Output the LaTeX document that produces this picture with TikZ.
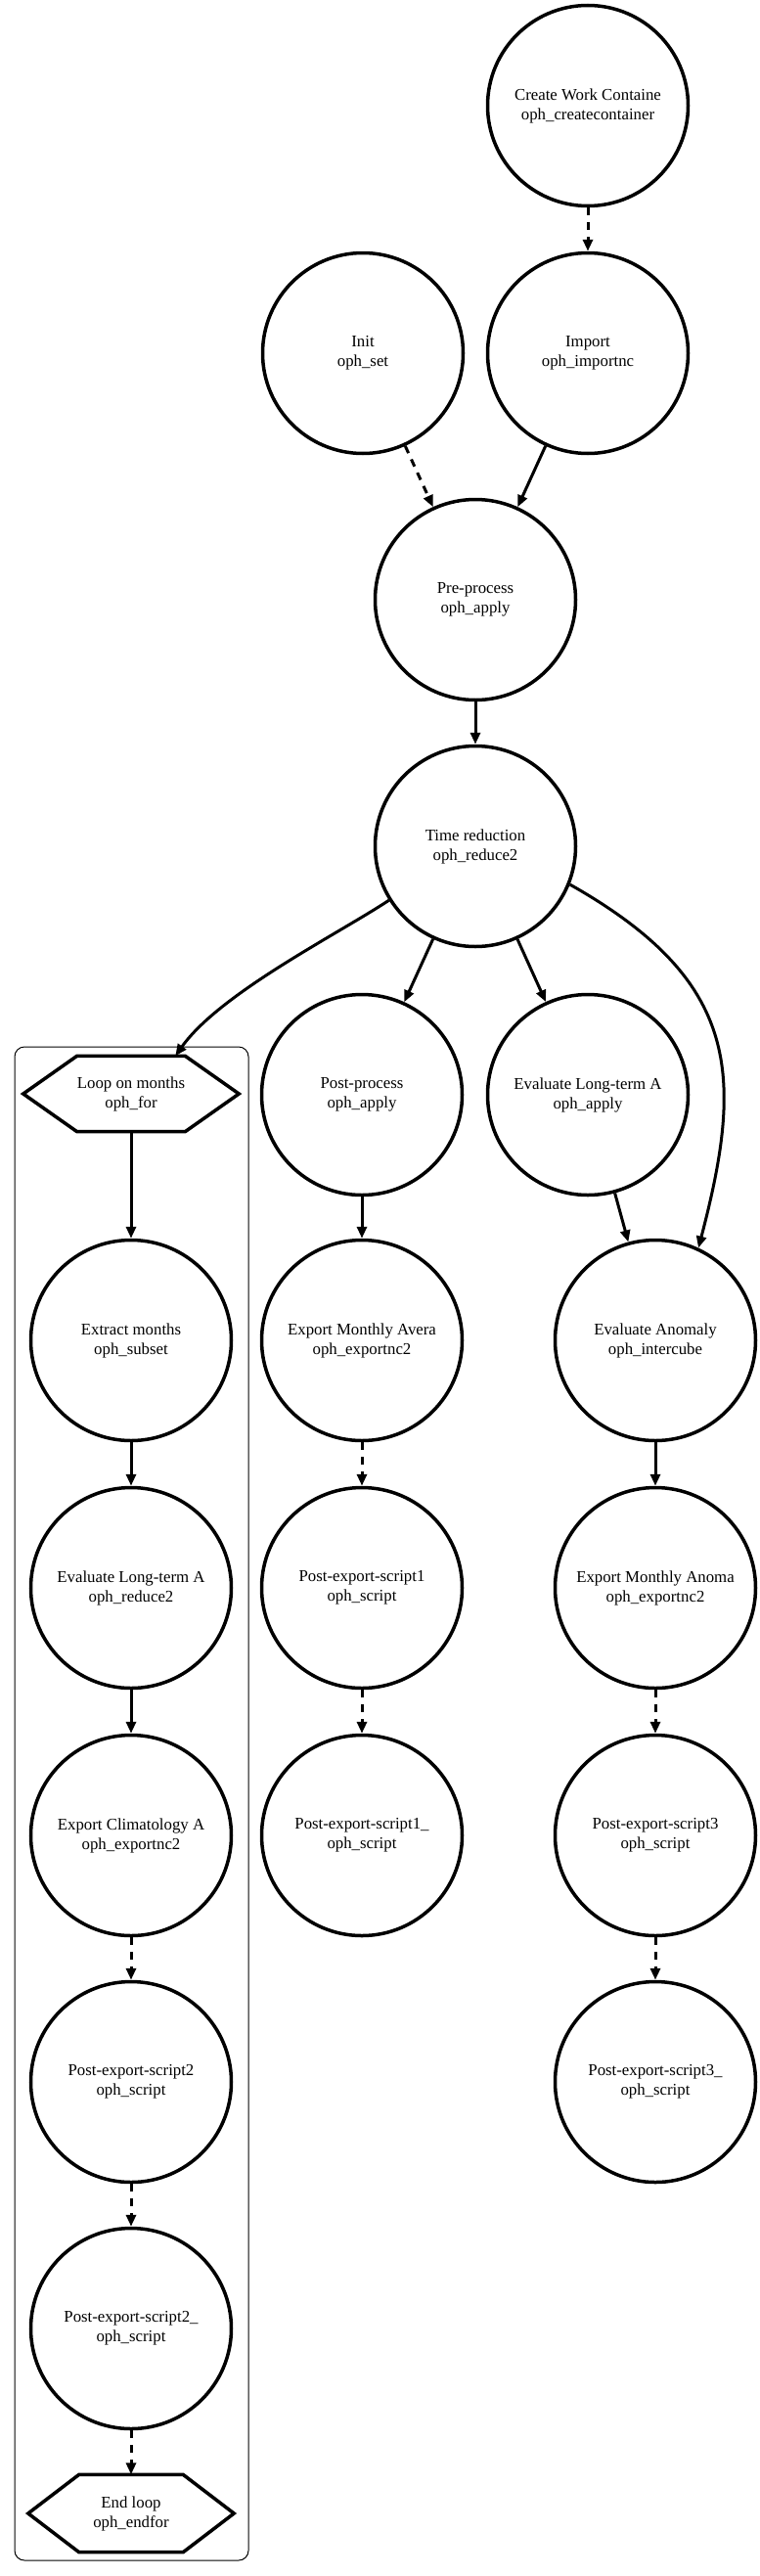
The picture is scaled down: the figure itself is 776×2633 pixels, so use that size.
\documentclass[tikz,border=0pt]{standalone}
\usepackage{fontspec}
\setmainfont{Liberation Serif}
\usetikzlibrary{arrows.meta,calc}
\begin{document}
\begin{tikzpicture}[x=1pt,y=-1pt,
  lbl/.style={align=center, font=\fontsize{16.8}{20}\selectfont},
  op/.style={lbl, circle, draw, line width=3.5pt, minimum size=205pt, inner sep=0pt},
  hexbox/.style={lbl, rectangle, draw=none, inner sep=0pt},
  hexline/.style={line width=3.5pt, line join=miter},
  edge/.style={line width=3pt, -{Triangle[length=12pt,width=10pt]}},
  dashededge/.style={edge, dash pattern=on 8pt off 7pt},
  clusterbox/.style={line width=1pt, rounded corners=10pt},
]
\useasboundingbox (0,0) rectangle (776,2633);

\draw[clusterbox] (15,1070) rectangle (254,2617);

\node[op] (create) at (601,108) {Create Work Containe\\oph\_createcontainer};
\node[op] (init) at (371,361) {Init\\oph\_set};
\node[op] (import) at (601,361) {Import\\oph\_importnc};
\node[op] (pre) at (486,613) {Pre-process\\oph\_apply};
\node[op] (time) at (486,865) {Time reduction\\oph\_reduce2};
\node[hexbox, minimum width=109pt, minimum height=77pt] (loop) at (134,1118) {Loop on months\\oph\_for};
\node[op] (post) at (370,1119) {Post-process\\oph\_apply};
\node[op] (evalA) at (601,1119) {Evaluate Long-term A\\oph\_apply};
\node[op] (extract) at (134,1370) {Extract months\\oph\_subset};
\node[op] (expavg) at (370,1370) {Export Monthly Avera\\oph\_exportnc2};
\node[op] (anom) at (670,1370) {Evaluate Anomaly\\oph\_intercube};
\node[op] (evalB) at (134,1623) {Evaluate Long-term A\\oph\_reduce2};
\node[op] (pes1) at (370,1623) {Post-export-script1\\oph\_script};
\node[op] (expanom) at (670,1623) {Export Monthly Anoma\\oph\_exportnc2};
\node[op] (expclim) at (134,1876) {Export Climatology A\\oph\_exportnc2};
\node[op] (pes1b) at (370,1876) {Post-export-script1\_\\oph\_script};
\node[op] (pes3) at (670,1876) {Post-export-script3\\oph\_script};
\node[op] (pes2) at (134,2128) {Post-export-script2\\oph\_script};
\node[op] (pes3b) at (670,2128) {Post-export-script3\_\\oph\_script};
\node[op] (pes2b) at (134,2380) {Post-export-script2\_\\oph\_script};
\node[hexbox, minimum width=106pt, minimum height=79pt] (endloop) at (134,2569) {End loop\\oph\_endfor};

\draw[hexline] (loop.north west) -- (loop.north east) -- ([xshift=55pt]loop.east)
  -- (loop.south east) -- (loop.south west) -- ([xshift=-55pt]loop.west) -- cycle;
\draw[hexline] (endloop.north west) -- (endloop.north east) -- ([xshift=52pt]endloop.east)
  -- (endloop.south east) -- (endloop.south west) -- ([xshift=-52pt]endloop.west) -- cycle;

\draw[dashededge] (create) -- (import);
\draw[dashededge] (init) -- (pre);
\draw[edge] (import) -- (pre);
\draw[edge] (pre) -- (time);
\draw[edge] (time.212) .. controls (345,955) and (225,1015) .. ([xshift=-10pt]loop.north east);
\draw[edge] (time) -- (post);
\draw[edge] (time) -- (evalA);
\draw[edge] (time.-22) .. controls (758,1003) and (760,1100) .. (anom.65);
\draw[edge] (evalA) -- (anom);
\draw[edge] (loop) -- (extract);
\draw[edge] (extract) -- (evalB);
\draw[edge] (evalB) -- (expclim);
\draw[dashededge] (expclim) -- (pes2);
\draw[dashededge] (pes2) -- (pes2b);
\draw[dashededge] (pes2b) -- (endloop);
\draw[edge] (post) -- (expavg);
\draw[dashededge] (expavg) -- (pes1);
\draw[dashededge] (pes1) -- (pes1b);
\draw[edge] (anom) -- (expanom);
\draw[dashededge] (expanom) -- (pes3);
\draw[dashededge] (pes3) -- (pes3b);
\end{tikzpicture}
\end{document}
